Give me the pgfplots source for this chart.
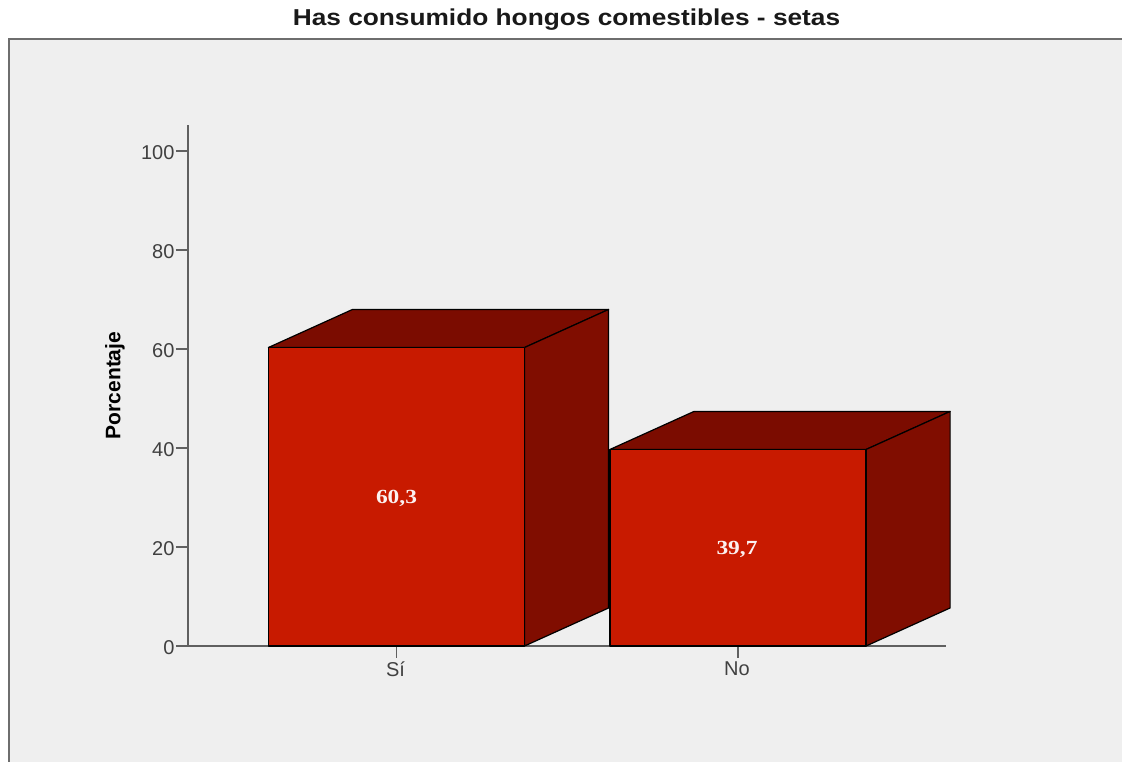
\documentclass[border=0pt]{standalone}
\usepackage{pgfplots}
\pgfplotsset{compat=1.18}
\usepackage{fontspec}
\setmainfont{Liberation Sans}
\newfontfamily\labelserif{Liberation Serif}
\definecolor{panel}{HTML}{EFEFEF}
\definecolor{framegray}{HTML}{6E6E6E}
\definecolor{axisgray}{HTML}{606060}
\definecolor{ticktext}{HTML}{404040}
\definecolor{front}{HTML}{C81A00}
\definecolor{side}{HTML}{800D00}
\definecolor{topface}{HTML}{7B0C00}
% bar half width 0.375; depth 0.246 along x and 7.68 along y
\begin{document}
\begin{tikzpicture}[x=1pt,y=1pt]
\useasboundingbox (0,0) rectangle (1122,762);
\fill[panel] (9,0) rectangle (1122,723);
\draw[framegray,line width=2.2pt] (9,0) -- (9,723) -- (1122,723);
\node[font=\fontsize{23}{26}\selectfont\bfseries,text=black!90,anchor=center,xscale=1.142] at (566.5,742) {Has consumido hongos comestibles - setas};
\begin{axis}[
  at={(188pt,116pt)},anchor=south west,
  scale only axis,width=758pt,height=521pt,
  xmin=-0.6105,xmax=1.609,ymin=0,ymax=105.25,
  axis lines=left,axis line style={-,axisgray,line width=1.1pt},
  xtick={0,1},xticklabels={Sí,No},
  ytick={0,20,40,60,80,100},
  tick style={axisgray,line width=1.6pt},
  tick align=outside,
  major tick length=12pt,
  xtick pos=bottom,ytick pos=left,
  tick label style={font=\fontsize{20}{24}\selectfont,text=ticktext},
  yticklabel style={xshift=2pt,yshift=-2pt},
  xticklabel style={xshift=-1pt},
  /pgf/number format/assume math mode=true,
  ylabel={Porcentaje},
  ylabel style={font=\fontsize{21}{24}\selectfont\bfseries,text=black,at={(axis description cs:-0.0963,0.5)},anchor=center},
  clip=false,
  no markers,
  every axis plot/.append style={line join=round},
]
% Sí = 60,3
\addplot[fill=topface,draw=black,line width=1.2pt] coordinates {(-0.375,60.3) (-0.129,67.98) (0.621,67.98) (0.375,60.3)} --cycle;
\addplot[fill=side,draw=black,line width=1.2pt] coordinates {(0.375,0) (0.621,7.68) (0.621,67.98) (0.375,60.3)} --cycle;
\addplot[ybar,bar width=0.75,bar shift=0pt,fill=front,draw=black,line width=1.2pt] coordinates {(0,60.3)};
% No = 39,7
\addplot[fill=topface,draw=black,line width=1.2pt] coordinates {(0.625,39.7) (0.871,47.38) (1.621,47.38) (1.375,39.7)} --cycle;
\addplot[fill=side,draw=black,line width=1.2pt] coordinates {(1.375,0) (1.621,7.68) (1.621,47.38) (1.375,39.7)} --cycle;
\addplot[ybar,bar width=0.75,bar shift=0pt,fill=front,draw=black,line width=1.2pt] coordinates {(1,39.7)};
\node[font=\labelserif\fontsize{20}{24}\selectfont\bfseries,text=white!94!front,yshift=-2pt,xscale=1.17] at (axis cs:0,30.15) {60,3};
\node[font=\labelserif\fontsize{20}{24}\selectfont\bfseries,text=white!94!front,yshift=-2pt,xshift=-1pt,xscale=1.17] at (axis cs:1,19.85) {39,7};
\end{axis}
\end{tikzpicture}
\end{document}
